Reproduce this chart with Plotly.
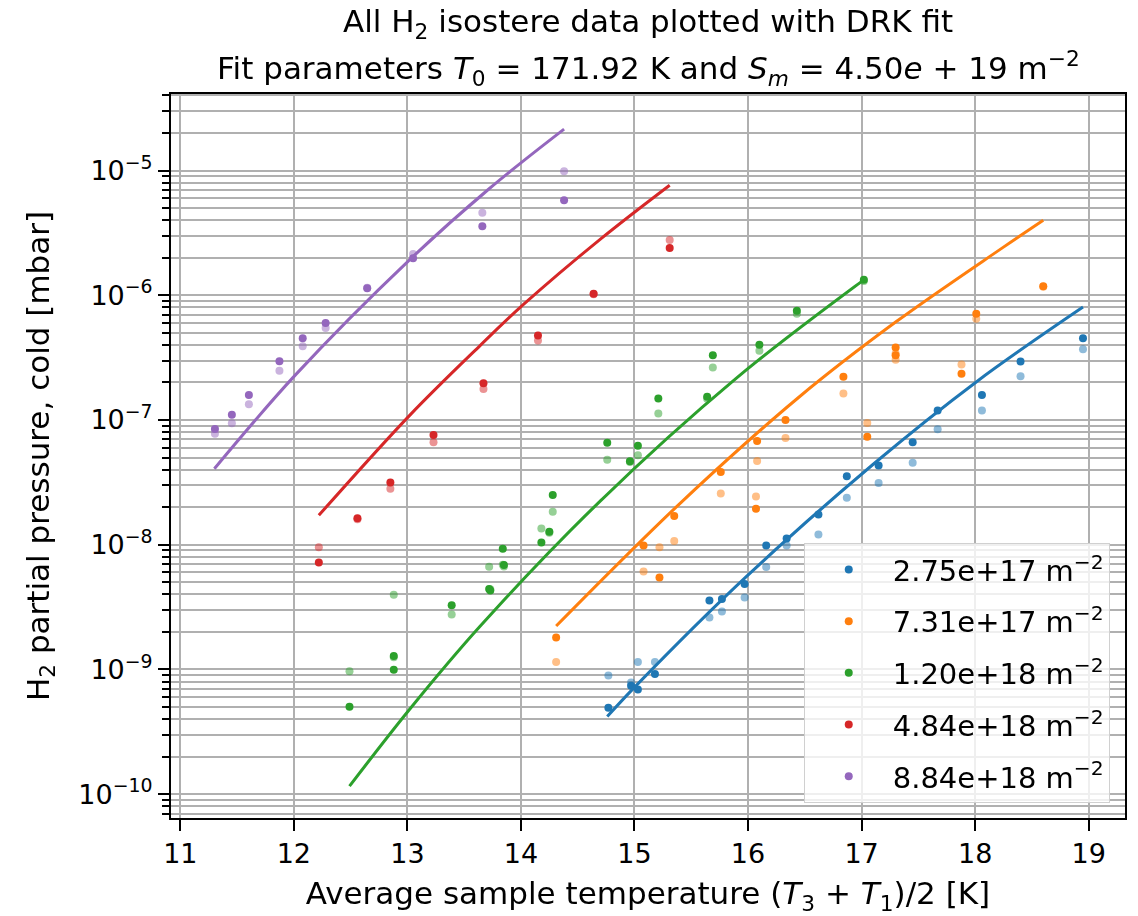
import plotly.graph_objects as go

# Coverage labels and colours (tab10)
labels = ["2.75e+17 m<sup>−2</sup>", "7.31e+17 m<sup>−2</sup>", "1.20e+18 m<sup>−2</sup>",
          "4.84e+18 m<sup>−2</sup>", "8.84e+18 m<sup>−2</sup>"]
colors = ["#1f77b4", "#ff7f0e", "#2ca02c", "#d62728", "#9467bd"]

# Measured isostere points: temperature [K], pressure (T3-based, solid) and (T1-based, faded) [mbar]
T_a = [14.77, 14.97, 15.03, 15.18, 15.66, 15.77, 15.97, 16.16, 16.34, 16.62, 16.87, 17.15, 17.45, 17.67, 18.06, 18.40, 18.95]
p_a = [4.94e-10, 7.40e-10, 6.92e-10, 9.18e-10, 3.57e-9, 3.67e-9, 4.84e-9, 9.86e-9, 1.12e-8, 1.75e-8, 3.54e-8, 4.31e-8, 6.62e-8, 1.19e-7, 1.585e-7, 2.94e-7, 4.52e-7]
q_a = [8.94e-10, 7.86e-10, 1.15e-9, 1.15e-9, 2.61e-9, 2.92e-9, 3.77e-9, 6.62e-9, 9.86e-9, 1.21e-8, 2.38e-8, 3.13e-8, 4.55e-8, 8.45e-8, 1.19e-7, 2.24e-7, 3.69e-7]

T_b = [14.31, 15.08, 15.22, 15.35, 15.76, 16.07, 16.08, 16.33, 16.84, 17.05, 17.30, 17.30, 17.88, 18.01, 18.60]
p_b = [1.80e-9, 9.86e-9, 5.45e-9, 1.70e-8, 3.83e-8, 1.94e-8, 6.78e-8, 1.00e-7, 2.22e-7, 7.33e-8, 3.81e-7, 3.30e-7, 2.35e-7, 7.11e-7, 1.18e-6]
q_b = [1.15e-9, 6.11e-9, 9.55e-9, 1.07e-8, 2.58e-8, 2.44e-8, 4.69e-8, 7.16e-8, 1.63e-7, 9.48e-8, 3.41e-7, 3.04e-7, 2.79e-7, 6.49e-7, 1.17e-6]

T_c = [12.49, 12.88, 12.88, 13.39, 13.72, 13.73, 13.84, 13.85, 14.18, 14.25, 14.28, 14.76, 14.96, 15.03, 15.21, 15.64, 15.69, 16.10, 16.43, 17.02]
p_c = [5.03e-10, 1.28e-9, 9.93e-10, 3.27e-9, 4.42e-9, 4.30e-9, 9.27e-9, 6.87e-9, 1.04e-8, 1.27e-8, 2.51e-8, 6.57e-8, 4.67e-8, 6.21e-8, 1.49e-7, 1.54e-7, 3.30e-7, 4.02e-7, 7.51e-7, 1.33e-6]
q_c = [9.69e-10, 1.25e-9, 3.98e-9, 2.76e-9, 6.67e-9, 4.40e-9, 6.90e-9, 6.70e-9, 1.35e-8, 1.25e-8, 1.84e-8, 4.81e-8, 4.60e-8, 5.21e-8, 1.13e-7, 1.48e-7, 2.64e-7, 3.60e-7, 7.11e-7, 1.30e-6]

T_d = [12.22, 12.56, 12.85, 13.23, 13.67, 14.15, 14.64, 15.31]
p_d = [7.21e-9, 1.63e-8, 3.15e-8, 7.60e-8, 1.97e-7, 4.77e-7, 1.03e-6, 2.39e-6]
q_d = [9.55e-9, 1.60e-8, 2.81e-8, 6.62e-8, 1.77e-7, 4.35e-7, 1.02e-6, 2.78e-6]

T_e = [11.305, 11.454, 11.604, 11.873, 12.078, 12.28, 12.646, 13.05, 13.66, 14.38]
p_e = [8.49e-8, 1.10e-7, 1.585e-7, 2.96e-7, 4.52e-7, 6.00e-7, 1.14e-6, 1.98e-6, 3.57e-6, 5.77e-6]
q_e = [7.75e-8, 9.42e-8, 1.337e-7, 2.48e-7, 3.90e-7, 5.47e-7, 1.15e-6, 2.14e-6, 4.60e-6, 9.87e-6]

# DRK fit curves evaluated along each isostere
fitT_a = [14.76, 15.01, 15.98, 17.10, 18.01, 18.95]
fitp_a = [4.19e-10, 7.35e-10, 5.5e-9, 4.4e-8, 2.02e-7, 8.04e-7]
fitT_b = [14.31, 15.39, 16.45, 17.30, 18.24, 18.60]
fitp_b = [2.23e-9, 2.1e-8, 1.53e-7, 6.1e-7, 2.4e-6, 4.0e-6]
fitT_c = [12.49, 13.02, 13.64, 14.70, 15.89, 17.02]
fitp_c = [1.16e-10, 4.8e-10, 2.22e-9, 2.25e-8, 2.14e-7, 1.33e-6]
fitT_d = [12.22, 13.02, 13.64, 14.02, 14.70, 15.31]
fitp_d = [1.72e-8, 1.09e-7, 3.95e-7, 8.4e-7, 2.82e-6, 7.63e-6]
fitT_e = [11.30, 12.01, 13.01, 13.72, 14.38]
fitp_e = [4.07e-8, 2.28e-7, 1.89e-6, 7.15e-6, 2.15e-5]

T_all = [T_a, T_b, T_c, T_d, T_e]
p_all = [p_a, p_b, p_c, p_d, p_e]
q_all = [q_a, q_b, q_c, q_d, q_e]
fitT_all = [fitT_a, fitT_b, fitT_c, fitT_d, fitT_e]
fitp_all = [fitp_a, fitp_b, fitp_c, fitp_d, fitp_e]

x_ticks = list(range(11, 20))
y_ticks = [1e-10, 1e-9, 1e-8, 1e-7, 1e-6, 1e-5]
y_ticktext = ["10<sup>−10</sup>", "10<sup>−9</sup>", "10<sup>−8</sup>", "10<sup>−7</sup>",
              "10<sup>−6</sup>", "10<sup>−5</sup>"]
y_minor = [k * 10.0 ** e for e in range(-11, -4) for k in range(2, 10)]

FONT = "DejaVu Sans"
fig = go.Figure()

for i in range(5):
    grp = f"g{i}"
    fig.add_trace(go.Scatter(
        x=T_all[i], y=p_all[i], mode="markers", name=labels[i], legendgroup=grp,
        marker=dict(color=colors[i], size=8, line=dict(width=0)), showlegend=True))
    fig.add_trace(go.Scatter(
        x=T_all[i], y=q_all[i], mode="markers", legendgroup=grp, opacity=0.5,
        marker=dict(color=colors[i], size=8, line=dict(width=0)), showlegend=False))
    fig.add_trace(go.Scatter(
        x=fitT_all[i], y=fitp_all[i], mode="lines", legendgroup=grp,
        line=dict(color=colors[i], width=3, shape="spline", smoothing=1.0),
        showlegend=False))

axis_common = dict(
    showline=True, linecolor="black", linewidth=2, mirror=True,
    ticks="outside", ticklen=11, tickwidth=2, tickcolor="black",
    showgrid=True, gridcolor="#b0b0b0", gridwidth=2, zeroline=False,
    tickfont=dict(family=FONT, size=27, color="black"),
)

fig.update_xaxes(
    range=[10.918, 19.32], tickmode="array", tickvals=x_ticks,
    ticktext=[str(v) for v in x_ticks],
    title=dict(text="Average sample temperature (<i>T</i><sub>3</sub> + <i>T</i><sub>1</sub>)/2 [K]",
               font=dict(family=FONT, size=31, color="black"), standoff=14),
    **axis_common)

fig.update_yaxes(
    type="log", range=[-10.191, -4.386], tickmode="array", tickvals=y_ticks,
    ticktext=y_ticktext,
    minor=dict(tickmode="array", tickvals=y_minor, ticks="outside", ticklen=7,
               tickwidth=1.5, tickcolor="black", showgrid=True,
               gridcolor="#b0b0b0", gridwidth=1.6),
    title=dict(text="H<sub>2</sub> partial pressure, cold [mbar]",
               font=dict(family=FONT, size=31, color="black"), standoff=20),
    **axis_common)

fig.add_annotation(text="All H<sub>2</sub> isostere data plotted with DRK fit",
                   xref="paper", yref="paper", x=0.5, y=1.0975, yanchor="middle",
                   showarrow=False, font=dict(family=FONT, size=31, color="black"))
fig.add_annotation(text="Fit parameters <i>T</i><sub>0</sub> = 171.92 K and "
                        "<i>S<sub>m</sub></i> = 4.50<i>e</i> + 19 m<sup>−2</sup>",
                   xref="paper", yref="paper", x=0.5, y=1.0357, yanchor="middle",
                   showarrow=False, font=dict(family=FONT, size=31, color="black"))

fig.update_layout(
    width=1138, height=916,
    margin=dict(l=171, r=11, t=94, b=94),
    paper_bgcolor="white", plot_bgcolor="white",
    showlegend=True,
    legend=dict(x=0.984, y=0.0206, xanchor="right", yanchor="bottom",
                bgcolor="rgba(255,255,255,0.8)", bordercolor="#d0d0d0", borderwidth=1,
                font=dict(family=FONT, size=29, color="black"),
                tracegroupgap=11, itemwidth=78),
)

fig.write_html("out.html")
